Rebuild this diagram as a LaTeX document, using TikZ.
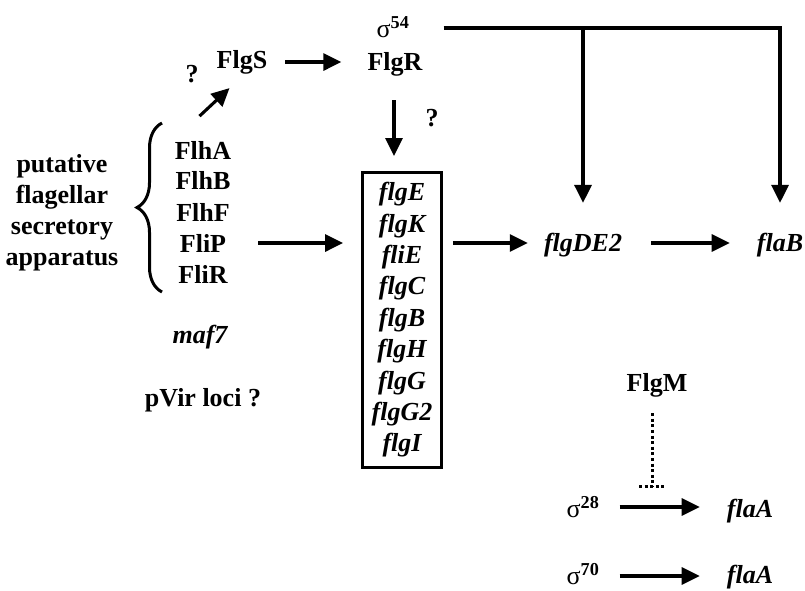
\documentclass[tikz,border=0pt]{standalone}
\usepackage{fontspec}
\setmainfont{Liberation Serif}
\usetikzlibrary{arrows.meta,calc,decorations.pathreplacing}
\begin{document}
\begin{tikzpicture}[x=1pt,y=-1pt,
  lbl/.style={font=\fontsize{26}{31}\selectfont\bfseries, inner sep=0pt, align=center},
  gene/.style={font=\fontsize{26}{31.4}\selectfont\bfseries\itshape, inner sep=0pt, align=center},
  arr/.style={line width=3.1pt, -{Triangle[length=18pt,width=17pt]}},
  dotl/.style={line width=3pt, dash pattern=on 3pt off 2.6pt},
]
\useasboundingbox (0,0) rectangle (805,590);
% top row
\node[lbl] (q1) at (192,74) {?};
\node[lbl] (FlgS) at (242,62) {FlgS};
\node[lbl] (s54) at (393,27) {{\mdseries σ}\textsuperscript{54}};
\node[lbl] (FlgR) at (395,64) {FlgR};
\node[lbl] (q2) at (432,118) {?};
% left column
\node[lbl] (put) at (62,213) {putative\\flagellar\\secretory\\apparatus};
\node[lbl] (FlhA) at (203,150) {FlhA};
\node[lbl] (FlhB) at (203,181) {FlhB};
\node[lbl] (FlhF) at (203,212) {FlhF};
\node[lbl] (FliP) at (203,243) {FliP};
\node[lbl] (FliR) at (203,274) {FliR};
\node[gene] (maf7) at (200,337) {maf7};
\node[lbl] (pvir) at (203,400) {pVir loci ?};
% box
\node[gene, draw, line width=2.8pt, minimum width=79, minimum height=295] (box) at (402,320)
  {flgE\\flgK\\fliE\\flgC\\flgB\\flgH\\flgG\\flgG2\\flgI};
% right
\node[gene] (flgDE2) at (583,245) {flgDE2};
\node[gene] (flaB) at (780,245) {flaB};
\node[lbl] (FlgM) at (657,385) {FlgM};
\node[lbl] (s28) at (583,507) {{\mdseries σ}\textsuperscript{28}};
\node[gene] (flaA1) at (750,511) {flaA};
\node[lbl] (s70) at (583,574) {{\mdseries σ}\textsuperscript{70}};
\node[gene] (flaA2) at (750,577) {flaA};
% brace
\draw[line width=3pt, decorate, decoration={brace, amplitude=25pt}] (162,292) -- (162,123);
% connectors
\draw[arr] ($(FlgS.east)+(18,0)$) -- ($(FlgS.east -| FlgR.west)+(-26,0)$);
\draw[arr] ($(FlgS.south west)+(-17,42)$) -- ($(FlgS.south west)+(13,14)$);
\draw[arr] ($(FlgR.south)+(-1,24)$) -- ($(FlgR.south)+(-1,80)$);
\draw[arr] ($(FliP.east)+(32,0)$) -- ($(FliP.east -| box.west)+(-18,0)$);
\draw[arr] ($(box.east |- flgDE2)+(10,-2)$) -- ($(flgDE2.west)+(-16,-2)$);
\draw[arr] ($(flgDE2.east)+(29,-2)$) -- ($(flaB.west)+(-27,-2)$);
\coordinate (tl) at ($(s54.east)+(34,1)$);
\draw[arr] (tl) -| ($(flaB.north)+(0,-30)$);
\draw[arr] (tl -| flgDE2) -- ($(flgDE2.north)+(0,-30)$);
\draw[arr] ($(s28.east)+(20,0)$) -- ($(s28.east -| flaA1.west)+(-27,0)$);
\draw[arr] ($(s70.east)+(20,2)$) -- ($(s70.east -| flaA2.west)+(-27,2)$);
\draw[dotl] ($(FlgM.south)+(-5,16)$) -- ($(s28.north -| FlgM.south)+(-5,-10)$) coordinate (inh);
\draw[dotl] ($(inh)+(-13,0)$) -- ($(inh)+(15,0)$);
\end{tikzpicture}
\end{document}
